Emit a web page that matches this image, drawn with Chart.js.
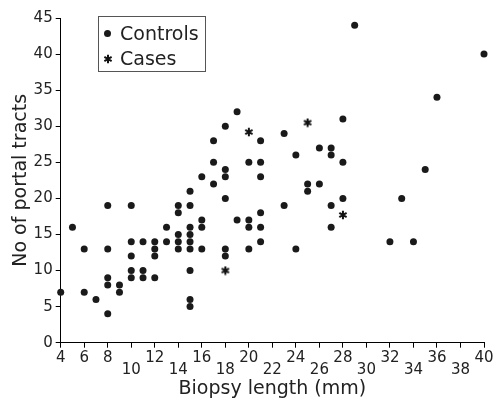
<!DOCTYPE html>
<html>
<head>
<meta charset="utf-8">
<script src="https://cdn.jsdelivr.net/npm/chart.js@4"></script>
<style>
    body { margin: 0; background: #fff; }
    #wrap { position: relative; width: 493px; height: 401px; }
    #legend {
        position: absolute; left: 98px; top: 16px; width: 106px; height: 54px;
        border: 1px solid #555; font-family: "DejaVu Sans"; font-size: 19px; color: #222;
    }
    .row { position: absolute; left: 0; height: 24px; line-height: 24px; }
    .row span.txt { position: absolute; left: 21px; white-space: nowrap; }
    .dot { position: absolute; left: 5px; top: 8.5px; width: 7px; height: 7px; border-radius: 50%; background: #1a1a1a; }
    .ast { position: absolute; left: 4px; top: 8px; }
</style>
</head>
<body>
<div id="wrap">
    <canvas id="chart" width="493" height="401"></canvas>
    <div id="legend">
        <div class="row" style="top:4px"><span class="dot"></span><span class="txt">Controls</span></div>
        <div class="row" style="top:29px"><canvas class="ast" id="legend-ast" width="10" height="10"></canvas><span class="txt">Cases</span></div>
    </div>
</div>
<script>
// controls: biopsy length (mm) and number of portal tracts
var controlsX = [4, 5, 6, 6, 7,
    8, 8, 8, 8, 8, 9, 9,
    10, 10, 10, 10, 10, 11, 11, 11,
    12, 12, 12, 12, 13, 13,
    14, 14, 14, 14, 14,
    15, 15, 15, 15, 15, 15, 15, 15, 15,
    16, 16, 16, 16, 17, 17, 17,
    18, 18, 18, 18, 18, 18, 19, 19,
    20, 20, 20, 20, 21, 21, 21, 21, 21, 21,
    23, 23, 24, 24, 25, 25, 26, 26,
    27, 27, 27, 27, 28, 28, 28,
    29, 32, 33, 34, 35, 36, 40];
var controlsY = [7, 16, 13, 7, 6,
    19, 13, 9, 8, 4, 8, 7,
    19, 14, 12, 10, 9, 14, 10, 9,
    14, 13, 12, 9, 16, 14,
    19, 18, 15, 14, 13,
    21, 19, 16, 15, 14, 13, 10, 6, 5,
    23, 17, 16, 13, 28, 25, 22,
    30, 24, 23, 20, 13, 12, 32, 17,
    25, 17, 16, 13, 28, 25, 23, 18, 16, 14,
    29, 19, 26, 13, 22, 21, 27, 22,
    27, 26, 19, 16, 31, 25, 20,
    44, 14, 20, 14, 24, 34, 40];

var casesX = [18, 20, 25, 28];
var casesY = [10, 29.2, 30.5, 17.7];

var xTicks = [4, 6, 8, 10, 12, 14, 16, 18, 20, 22, 24, 26, 28, 30, 32, 34, 36, 38, 40];
var xLowRow = [10, 14, 18, 22, 26, 30, 34, 38];

var FONT = "DejaVu Sans";
var INK = "#1a1a1a";

function toPoints (xs, ys) {
    let pts = [];
    for (let i = 0; i < xs.length; i++) {
        pts.push({ x: xs[i], y: ys[i] });
    }
    return pts;
}

function drawAsterisk (canvas) {
    let ctx = canvas.getContext("2d");
    let c = canvas.width / 2;
    let r = c - 0.8;
    ctx.strokeStyle = "#111";
    ctx.lineWidth = 2;
    ctx.beginPath();
    for (let k = 0; k < 3; k++) {
        let a = Math.PI / 2 + k * Math.PI / 3;
        ctx.moveTo(c + r * Math.cos(a), c - r * Math.sin(a));
        ctx.lineTo(c - r * Math.cos(a), c + r * Math.sin(a));
    }
    ctx.stroke();
}

var astMarker = document.createElement("canvas");
astMarker.width = 10;
astMarker.height = 10;
drawAsterisk(astMarker);
drawAsterisk(document.getElementById("legend-ast"));

var axisGrid = {
    drawOnChartArea: false,
    drawTicks: true,
    tickLength: 5,
    color: "#000",
    lineWidth: 1
};

new Chart(document.getElementById("chart"), {
    type: "scatter",
    data: {
        datasets: [
            {
                label: "Controls",
                data: toPoints(controlsX, controlsY),
                pointStyle: "circle",
                pointRadius: 3.5,
                pointHoverRadius: 3.5,
                backgroundColor: INK,
                borderColor: INK,
                borderWidth: 0,
                clip: false
            },
            {
                label: "Cases",
                data: toPoints(casesX, casesY),
                pointStyle: astMarker,
                pointRadius: 5,
                backgroundColor: INK,
                borderColor: INK,
                clip: false
            }
        ]
    },
    options: {
        responsive: false,
        animation: false,
        layout: { padding: { left: 10, right: 9, top: 18, bottom: 0 } },
        plugins: {
            legend: { display: false },
            tooltip: { enabled: false }
        },
        scales: {
            x: {
                type: "linear",
                min: 4,
                max: 40,
                afterBuildTicks: function (scale) {
                    scale.ticks = xTicks.map(function (v) { return { value: v }; });
                },
                afterFit: function (scale) {
                    scale.height = 58.3;
                    scale.paddingRight = 0;
                },
                grid: axisGrid,
                border: { color: "#000", width: 1 },
                ticks: {
                    padding: 4,
                    autoSkip: false,
                    maxRotation: 0,
                    color: "#222",
                    font: { family: FONT, size: 15, lineHeight: 0.84 },
                    callback: function (value) {
                        if (xLowRow.indexOf(value) >= 0) {
                            return ["", String(value)];
                        }
                        return String(value);
                    }
                },
                title: {
                    display: true,
                    text: "Biopsy length (mm)",
                    color: "#222",
                    font: { family: FONT, size: 19 },
                    padding: { top: 0, bottom: 1 }
                }
            },
            y: {
                min: 0,
                max: 45,
                afterFit: function (scale) { scale.width = 50.7; },
                grid: axisGrid,
                border: { color: "#000", width: 1 },
                ticks: {
                    stepSize: 5,
                    padding: 3,
                    color: "#222",
                    font: { family: FONT, size: 15 }
                },
                title: {
                    display: true,
                    text: "No of portal tracts",
                    color: "#222",
                    font: { family: FONT, size: 19 },
                    padding: { top: 0, bottom: 0 }
                }
            }
        }
    }
});
</script>
</body>
</html>
